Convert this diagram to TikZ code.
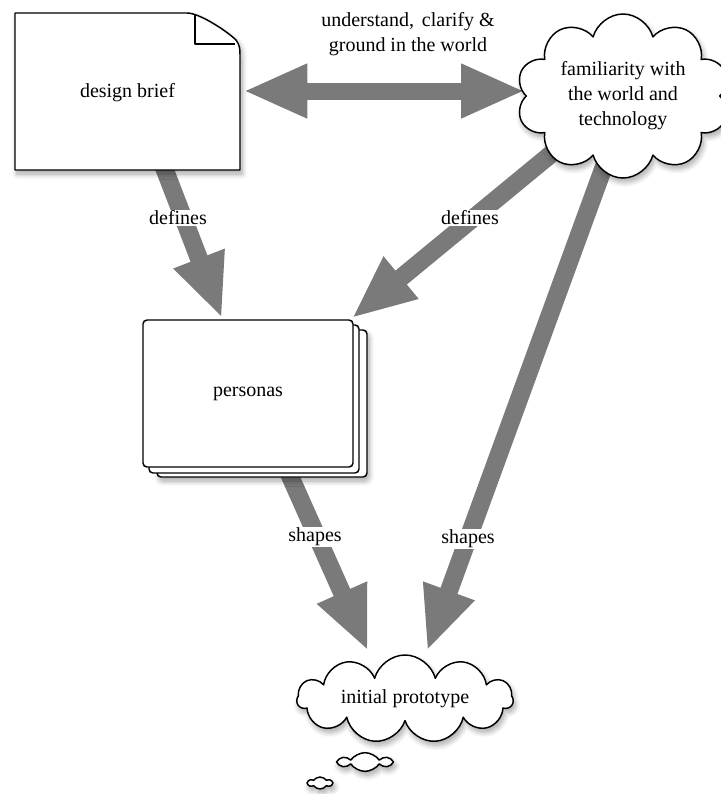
\documentclass[tikz,border=0pt]{standalone}
\usepackage{fontspec}
\setmainfont{Liberation Serif}
\usetikzlibrary{arrows.meta,shapes.symbols,calc,backgrounds,shadows.blur}
\definecolor{arrowgray}{RGB}{122,122,122}
\tikzset{
 lbl/.style={font=\fontsize{15}{18.75}\selectfont, inner sep=1pt},
 lblw/.style={lbl, fill=white},
 outl/.style={draw=black, line width=1.1pt, fill=white, line join=round},
 shad/.style={blur shadow={shadow xshift=1.5pt, shadow yshift=-3pt, shadow blur steps=8, shadow blur radius=4pt, shadow opacity=35}},
 bigarrow/.style={draw=arrowgray, line width=13.5pt, -{Triangle[width=37.5pt,length=48pt]}},
 bigdouble/.style={draw=arrowgray, line width=12.75pt, {Triangle[width=37.5pt,length=48pt]}-{Triangle[width=37.5pt,length=48pt]}},
 card/.style={outl, rounded corners=3pt, minimum width=157.5pt, minimum height=110.25pt, inner sep=0pt},
 thought/.style={cloud, cloud ignores aspect, outl, shad, inner sep=0pt},
}
\begin{document}
\begin{tikzpicture}[x=0.75pt,y=-0.75pt]
\useasboundingbox (0,0) rectangle (721,794);
% design brief (folded page)
\draw[outl, shad] (15,13) -- (187,13) .. controls (200,13) and (228,32) .. (236,40)
  .. controls (240,45) and (240,50) .. (240,55) -- (240,170) -- (15,170) -- cycle;
\draw[line width=1.1pt, line join=round] (195,14) -- (195,44) -- (235,44);
\node[lbl, minimum width=168.75pt, minimum height=117.75pt] (brief) at (127.5,93) {design brief};
% familiarity cloud
\node[thought, cloud puffs=10, minimum width=160pt, minimum height=123pt, align=center, font=\fontsize{15}{18.75}\selectfont] (fam) at (623,96) {familiarity with\\the world and\\technology};
% personas stack
\fill[white, shad, rounded corners=3pt] (157,330) rectangle (367,477);
\draw[outl, rounded corners=3pt] (157,330) rectangle (367,477);
\draw[outl, rounded corners=3pt] (149,325) rectangle (359,473);
\node[card, font=\fontsize{15}{18.75}\selectfont] (pers) at (248,393.5) {personas};
% initial prototype
\node[thought, cloud puffs=11, minimum width=162pt, minimum height=66pt, font=\fontsize{15}{18.75}\selectfont] (proto) at (405,699) {initial prototype};
\node[thought, cloud puffs=6, cloud puff arc=110, minimum width=38pt, minimum height=14pt] (s1) at (365,762) {};
\node[thought, cloud puffs=6, cloud puff arc=110, minimum width=18pt, minimum height=9pt] (s2) at (320,783) {};
% arrows
\begin{scope}[on background layer]
\draw[bigdouble] ($(brief.east)+(3,-2)$) -- ($(fam.center)+(-98,-5)$);
\draw[bigarrow] ($(brief.south)+(35,-8)$) -- ($(pers.north)+(-26,-1)$);
\draw[bigarrow] ($(fam.center)+(-67,54)$) -- ($(pers.north east)+(-2,-1)$);
\draw[bigarrow] ($(fam.center)+(-13,54)$) -- ($(proto.center)+(22,-48)$);
\draw[bigarrow] ($(pers.south)+(37,-3)$) -- ($(proto.center)+(-37,-48)$);
\end{scope}
% labels
\node[lbl, align=center] (ul) at (408,34) {understand,\hspace{0.4em}clarify \&\\ground in the world};
\node[lblw] (d1) at (178,218) {defines};
\node[lblw] (d2) at (470,218) {defines};
\node[lblw] (sh1) at (315,537) {shapes};
\node[lblw] (sh2) at (468,539) {shapes};
\end{tikzpicture}
\end{document}
